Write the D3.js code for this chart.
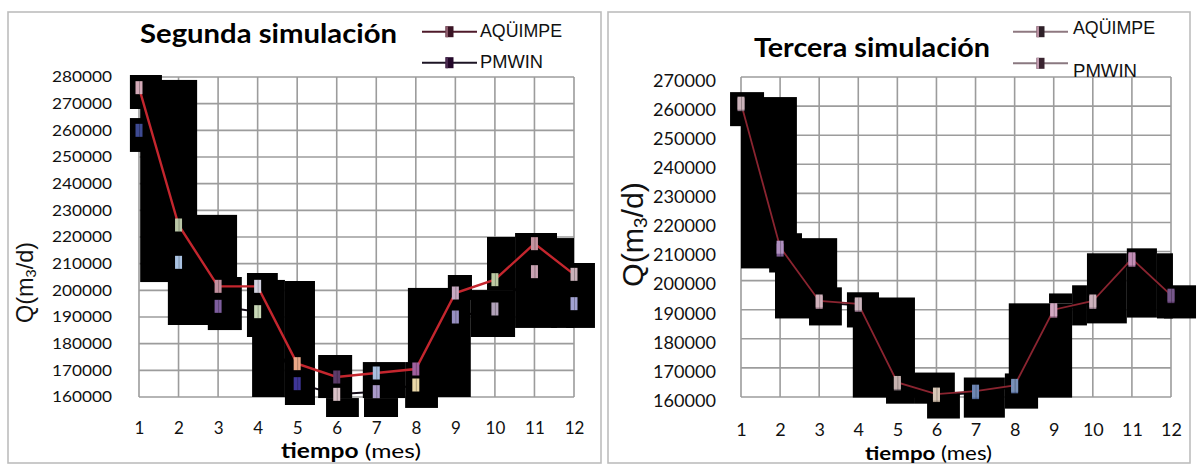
<!DOCTYPE html>
<html>
<head>
<meta charset="utf-8">
<script src="https://cdn.jsdelivr.net/npm/d3@7"></script>
<style>
  body { margin: 0; background: #fff; }
  svg { display: block; }
</style>
</head>
<body>
<svg id="chart" width="1197" height="466"></svg>
<script>
// Months on the x axis
const months = [1, 2, 3, 4, 5, 6, 7, 8, 9, 10, 11, 12];

// Y tick labels for each panel
const yTicksSegunda = [160000, 170000, 180000, 190000, 200000, 210000, 220000,
                       230000, 240000, 250000, 260000, 270000, 280000];
const yTicksTercera = [160000, 170000, 180000, 190000, 200000, 210000,
                       220000, 230000, 240000, 250000, 260000, 270000];

// Segunda simulación: flow Q (m3/d) per month
const aquimpeSegunda = [276000, 224500, 201500, 201500, 172500, 167500, 169000, 170500, 199000, 204000, 217500, 206000];
const pmwinSegunda   = [260000, 210500, 194000, 192000, 165000, 161000, 162000, 164500, 190000, 193000, 207000, 195000];

// Tercera simulación: flow Q (m3/d) per month
const aquimpeTercera = [261000, 211500, 193000, 192000, 165000, 161000, 162000, 164000, 190000, 193000, 207500, 195000];
const pmwinTercera   = [260500, 210500, 192500, 191500, 164500, 160500, 161500, 163500, 189500, 192500, 207000, 194500];

// Dark blocks behind the series: [month from, month to, Q top, Q bottom]
const blocksSegunda = [
  [0.77, 1.58, 280750, 268000],
  [0.77, 1.05, 264600, 251900],
  [1.03, 2.47, 278900, 203100],
  [1.73, 3.48, 228300, 187000],
  [2.74, 3.60, 205000, 185100],
  [3.73, 4.51, 206500, 182500],
  [3.86, 4.69, 203900, 160000],
  [4.69, 5.45, 203500, 157000],
  [5.53, 6.39, 175750, 159600],
  [5.73, 6.56, 159600, 152500],
  [6.66, 7.73, 173100, 159600],
  [6.69, 7.55, 159600, 152500],
  [7.73, 8.56, 173100, 155900],
  [7.80, 9.39, 200900, 160000],
  [8.81, 9.42, 205750, 196400],
  [9.39, 10.51, 200100, 182500],
  [9.80, 10.51, 220000, 200100],
  [10.51, 11.57, 221500, 185900],
  [11.42, 12.00, 219600, 185900],
  [11.80, 12.53, 210250, 185900]
];
const blocksTercera = [
  [0.72, 1.59, 264800, 253100],
  [1.00, 2.43, 263100, 204200],
  [1.72, 2.56, 216300, 202800],
  [1.87, 3.46, 214600, 187000],
  [2.74, 3.58, 197700, 184600],
  [3.71, 4.53, 196000, 183900],
  [3.86, 5.45, 194200, 159800],
  [4.71, 5.45, 168100, 157700],
  [5.45, 6.47, 168400, 157700],
  [5.76, 6.60, 161200, 152600],
  [6.70, 7.75, 166700, 152900],
  [7.75, 8.60, 168100, 156000],
  [7.85, 9.47, 192200, 159800],
  [8.88, 9.47, 195600, 192200],
  [9.47, 9.85, 198400, 184600],
  [9.85, 10.87, 209400, 185300],
  [10.87, 11.64, 211100, 187300],
  [11.64, 12.05, 209400, 187000],
  [11.82, 12.64, 198400, 187000]
];

// Marker tints, one per month
const tintsAquimpeSeg = ["#d4aab8", "#b9c6a6", "#c2909f", "#d2d2e0", "#eaa888", "#5c3c6a",
                         "#a9c0e0", "#a0609e", "#c8aac2", "#bccaa2", "#c4929f", "#cab2ba"];
const tintsPmwinSeg   = ["#3e4a92", "#a9c2e2", "#7e5e9e", "#c8d8b6", "#3f3698", "#dac2c8",
                         "#aa9aca", "#ead8a8", "#9890c2", "#b2a2ba", "#c8a2b2", "#a2a2d2"];
const tintsAquimpeTer = ["#cbb3ba", "#b090c0", "#d2b2bc", "#cdb7bf", "#c6b2b0", "#d8c8b8",
                         "#6d86b4", "#7890b8", "#d2a8c2", "#cdb2bc", "#c28eb6", "#76578a"];
const tintsPmwinTer   = ["#8a7080", "#7a5a90", "#9a7888", "#8a6a80", "#8a7a80", "#a89888",
                         "#50689a", "#5a70a0", "#a07090", "#9a8090", "#9a6a90", "#5a3a6a"];

const SANS_C = "Lato, 'Open Sans', sans-serif";
const SANS_A = "'Liberation Sans', Arial, sans-serif";

const svg = d3.select("#chart");

const panels = [
  {
    frame: { x: 8, y: 12, w: 593, h: 451 },
    plot: { left: 139, right: 574, top: 77, bottom: 397 },
    yDomain: [160000, 280000],
    yTicks: yTicksSegunda,
    aquimpe: aquimpeSegunda, pmwin: pmwinSegunda, blocks: blocksSegunda,
    tintsA: tintsAquimpeSeg, tintsP: tintsPmwinSeg,
    lineA: "#c4262e", lineAWidth: 2.4,
    title: { text: "Segunda simulación", x: 140, y: 43, len: 257, size: 27 },
    yLab: { size: 15, len: 60, pad: 27, dy: "0.32em" },
    xLab: { size: 17, pad: 25 },
    yTitle: { x: 33, y: 323, size: 24, len: 81 },
    xTitle: { x: 281, y: 458, size: 20, len: 140 },
    legend: {
      x: 422, w: 55, textX: 480, size: 18,
      rows: [
        { label: "AQÜIMPE", y: 31.7, ty: 36.7, len: 82, line: "#4e1a2a", mark: "#3a1424", hi: "#8a5a6a" },
        { label: "PMWIN", y: 62.7, ty: 68.3, len: 63, line: "#1c1424", mark: "#24082a", hi: "#4a2a50" }
      ]
    }
  },
  {
    frame: { x: 608, y: 12, w: 582, h: 451 },
    plot: { left: 741, right: 1171, top: 77, bottom: 397 },
    yDomain: [160000, 270000],
    yTicks: yTicksTercera,
    aquimpe: aquimpeTercera, pmwin: pmwinTercera, blocks: blocksTercera,
    tintsA: tintsAquimpeTer, tintsP: tintsPmwinTer,
    lineA: "#8a2430", lineAWidth: 1.8,
    title: { text: "Tercera simulación", x: 754, y: 57, len: 236, size: 27 },
    yLab: { size: 17, len: 63, pad: 25, dy: "0.55em" },
    xLab: { size: 18, pad: 26 },
    yTitle: { x: 643, y: 287, size: 30, len: 105 },
    xTitle: { x: 865, y: 460, size: 19, len: 127 },
    legend: {
      x: 1013, w: 55, textX: 1073, size: 18.5,
      rows: [
        { label: "AQÜIMPE", y: 31.7, ty: 34, len: 82, line: "#8e7880", mark: "#2e2028", hi: "#b88ea0" },
        { label: "PMWIN", y: 63.3, ty: 76.7, len: 64, line: "#8a7880", mark: "#3a2430", hi: "#c09aae" }
      ]
    }
  }
];

panels.forEach(p => {
  const g = svg.append("g");

  // Panel frame
  g.append("rect")
    .attr("x", p.frame.x).attr("y", p.frame.y)
    .attr("width", p.frame.w).attr("height", p.frame.h)
    .attr("fill", "#fff").attr("stroke", "#bdbdbd").attr("stroke-width", 1.6);

  const x = d3.scaleLinear().domain([1, 12]).range([p.plot.left, p.plot.right]);
  const y = d3.scaleLinear().domain(p.yDomain).range([p.plot.bottom, p.plot.top]);

  // Grid
  const grid = g.append("g").attr("stroke", "#9c9c9c").attr("stroke-width", 1.6);
  grid.selectAll("line.h").data(p.yTicks).join("line").attr("class", "h")
    .attr("x1", x(1)).attr("x2", x(12))
    .attr("y1", d => y(d)).attr("y2", d => y(d));
  grid.selectAll("line.v").data(months).join("line").attr("class", "v")
    .attr("x1", d => x(d)).attr("x2", d => x(d))
    .attr("y1", y(p.yDomain[1])).attr("y2", y(p.yDomain[0]));

  const line = d3.line().x((d, i) => x(months[i])).y(d => y(d));

  // PMWIN line (dark, lies beneath the blocks)
  g.append("path").datum(p.pmwin).attr("d", line)
    .attr("fill", "none").attr("stroke", "#140c18").attr("stroke-width", 2);

  // Dark blocks
  g.append("g").selectAll("rect").data(p.blocks).join("rect")
    .attr("x", d => x(d[0]))
    .attr("width", d => x(d[1]) - x(d[0]))
    .attr("y", d => y(d[2]))
    .attr("height", d => y(d[3]) - y(d[2]))
    .attr("fill", "#000");

  // AQÜIMPE line (red)
  g.append("path").datum(p.aquimpe).attr("d", line)
    .attr("fill", "none").attr("stroke", p.lineA).attr("stroke-width", p.lineAWidth);

  // Markers
  const drawMarkers = (vals, tints) => {
    const mg = g.append("g");
    mg.selectAll("rect.m").data(vals).join("rect").attr("class", "m")
      .attr("x", (d, i) => x(months[i]) - 3.5)
      .attr("y", d => y(d) - 6.5)
      .attr("width", 7).attr("height", 13)
      .attr("fill", (d, i) => tints[i]);
    mg.selectAll("line.s").data(vals).join("line").attr("class", "s")
      .attr("x1", (d, i) => x(months[i]) + 0.5).attr("x2", (d, i) => x(months[i]) + 0.5)
      .attr("y1", d => y(d) - 6.5).attr("y2", d => y(d) + 6.5)
      .attr("stroke", "#000").attr("stroke-opacity", 0.25).attr("stroke-width", 1);
  };
  drawMarkers(p.pmwin, p.tintsP);
  drawMarkers(p.aquimpe, p.tintsA);

  // Y axis labels
  const yAxis = d3.axisLeft(y).tickValues(p.yTicks).tickSize(0).tickPadding(p.yLab.pad)
    .tickFormat(d3.format("d"));
  const ya = g.append("g").attr("transform", `translate(${p.plot.left},0)`).call(yAxis);
  ya.select(".domain").remove();
  ya.selectAll("text")
    .attr("font-family", SANS_C)
    .attr("font-size", p.yLab.size).attr("fill", "#111")
    .attr("dy", p.yLab.dy)
    .attr("textLength", p.yLab.len).attr("lengthAdjust", "spacingAndGlyphs");

  // X axis labels
  const xAxis = d3.axisBottom(x).tickValues(months).tickSize(0).tickPadding(p.xLab.pad)
    .tickFormat(d3.format("d"));
  const xa = g.append("g").attr("transform", `translate(0,${p.plot.bottom})`).call(xAxis);
  xa.select(".domain").remove();
  xa.selectAll("text")
    .attr("font-family", SANS_C)
    .attr("font-size", p.xLab.size).attr("fill", "#111");

  // Title
  g.append("text")
    .attr("x", p.title.x).attr("y", p.title.y)
    .attr("font-family", SANS_C)
    .attr("font-weight", "bold").attr("font-size", p.title.size).attr("fill", "#000")
    .attr("textLength", p.title.len).attr("lengthAdjust", "spacingAndGlyphs")
    .text(p.title.text);

  // Y axis title: Q(m3/d) with small 3
  const yt = g.append("text")
    .attr("transform", `translate(${p.yTitle.x},${p.yTitle.y}) rotate(-90)`)
    .attr("text-anchor", "start")
    .attr("font-family", SANS_A)
    .attr("font-size", p.yTitle.size).attr("fill", "#111")
    .attr("textLength", p.yTitle.len).attr("lengthAdjust", "spacingAndGlyphs");
  yt.append("tspan").text("Q(m");
  yt.append("tspan").attr("font-size", p.yTitle.size * 0.62).attr("dy", p.yTitle.size * 0.12).text("3");
  yt.append("tspan").attr("dy", -p.yTitle.size * 0.12).text("/d)");

  // X axis title: bold "tiempo" + "(mes)"
  const xt = g.append("text")
    .attr("x", p.xTitle.x).attr("y", p.xTitle.y)
    .attr("font-family", SANS_C)
    .attr("font-size", p.xTitle.size).attr("fill", "#000")
    .attr("textLength", p.xTitle.len).attr("lengthAdjust", "spacingAndGlyphs");
  xt.append("tspan").attr("font-weight", "bold").text("tiempo");
  xt.append("tspan").text(" (mes)");

  // Legend
  const lg = g.append("g");
  p.legend.rows.forEach(r => {
    lg.append("line")
      .attr("x1", p.legend.x).attr("x2", p.legend.x + p.legend.w)
      .attr("y1", r.y).attr("y2", r.y)
      .attr("stroke", r.line).attr("stroke-width", 2);
    const cx = p.legend.x + p.legend.w / 2;
    lg.append("rect").attr("x", cx - 4).attr("y", r.y - 5.5).attr("width", 8).attr("height", 11)
      .attr("fill", r.mark);
    lg.append("rect").attr("x", cx - 4).attr("y", r.y - 5.5).attr("width", 2.5).attr("height", 11)
      .attr("fill", r.hi);
    lg.append("text")
      .attr("x", p.legend.textX).attr("y", r.ty)
      .attr("font-family", SANS_A)
      .attr("font-size", p.legend.size).attr("fill", "#111")
      .attr("textLength", r.len).attr("lengthAdjust", "spacingAndGlyphs")
      .text(r.label);
  });
});
</script>
</body>
</html>
